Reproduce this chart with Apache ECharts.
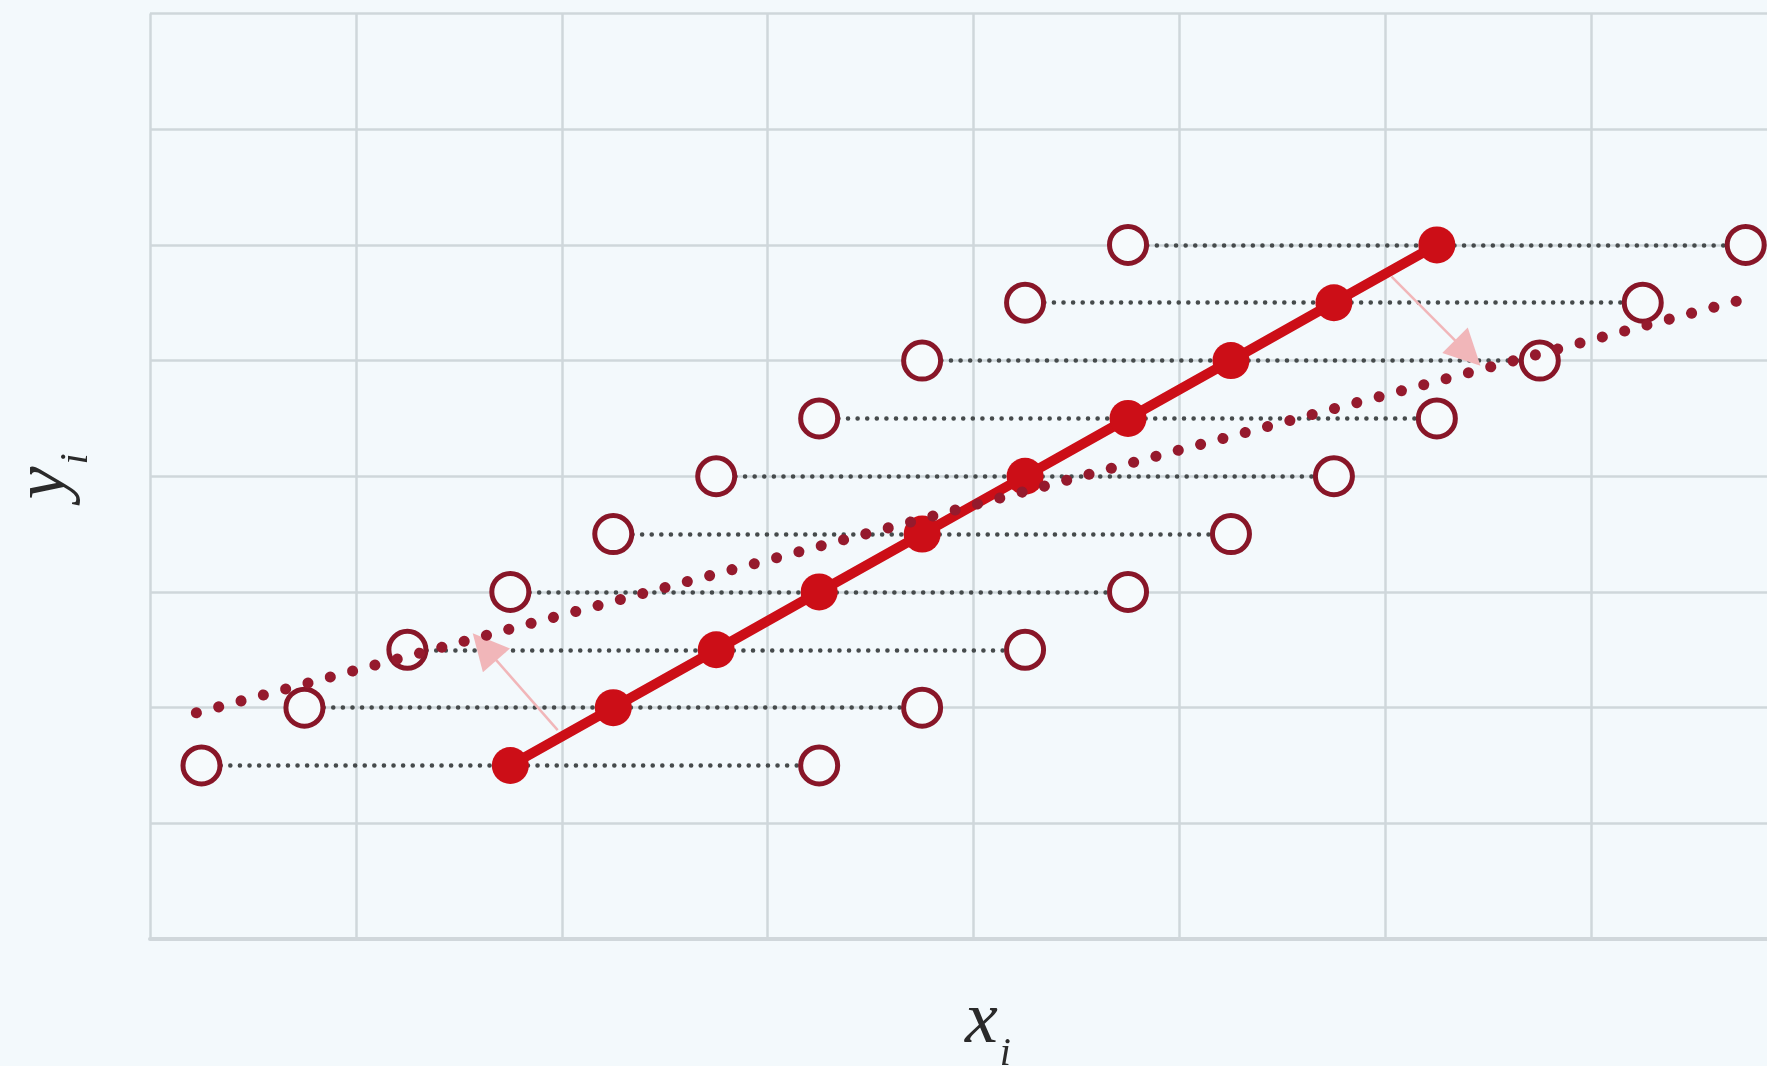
<!DOCTYPE html>
<html>
<head>
<meta charset="utf-8">
<script src="https://cdn.jsdelivr.net/npm/echarts/dist/echarts.min.js"></script>
<style>
html, body { margin: 0; padding: 0; background: #f3f9fc; }
#chart { width: 1767px; height: 1066px; }
</style>
</head>
<body>
<div id="chart"></div>
<script>
// rows (y) shared by the three point sets
const rowY = [3, 4, 5, 6, 7, 8, 9, 10, 11, 12];
// filled points on the solid line
const solidX = [3.5, 4.5, 5.5, 6.5, 7.5, 8.5, 9.5, 10.5, 11.5, 12.5];
// hollow points, shifted left / right
const leftX = [0.5, 1.5, 2.5, 3.5, 4.5, 5.5, 6.5, 7.5, 8.5, 9.5];
const rightX = [6.5, 7.5, 8.5, 9.5, 10.5, 11.5, 12.5, 13.5, 14.5, 15.5];
// dotted fitted line ends
const fitX = [0.45, 15.5];
const fitY = [3.91, 11.07];
// pink arrows
const arrowFrom = [[3.96, 3.61], [12.06, 11.45]];
const arrowTo = [[3.25, 5.05], [12.8, 10.13]];

const zip = (xs, ys) => xs.map((x, i) => [x, ys[i]]);

var myChart = echarts.init(document.getElementById("chart"));

const mathFont = {
    fontFamily: '"Liberation Serif", "DejaVu Serif", serif',
    fontStyle: 'italic',
    color: '#2a2a2a'
};

myChart.setOption({
    backgroundColor: '#f3f9fc',
    animation: false,
    grid: {
        left: 150,
        right: -59,
        top: 13.5,
        bottom: 127,
        containLabel: false,
        outerBoundsMode: 'none'
    },
    xAxis: {
        type: 'value',
        min: 0,
        max: 16.28,
        interval: 2,
        name: '{a|x}{b|i}',
        nameLocation: 'middle',
        nameGap: 33,
        nameTextStyle: {
            rich: {
                a: Object.assign({ fontSize: 74 }, mathFont),
                b: Object.assign({ fontSize: 40, verticalAlign: 'bottom', padding: [62, 0, 0, 2] }, mathFont)
            }
        },
        axisLine: { show: true, lineStyle: { color: '#d0d7db', width: 4 } },
        axisTick: { show: false },
        axisLabel: { show: false },
        splitLine: { lineStyle: { color: '#cfd7db', width: 2.5 } }
    },
    yAxis: {
        type: 'value',
        min: 0,
        max: 16,
        interval: 2,
        name: '{a|y}{b|i}',
        nameLocation: 'middle',
        nameGap: 54,
        nameTextStyle: {
            rich: {
                a: Object.assign({ fontSize: 74 }, mathFont),
                b: Object.assign({ fontSize: 40, verticalAlign: 'bottom', padding: [62, 0, 0, 2] }, mathFont)
            }
        },
        axisLine: { show: false },
        axisTick: { show: false },
        axisLabel: { show: false },
        splitLine: { lineStyle: { color: '#cfd7db', width: 2.5 } }
    },
    series: [
        {
            // horizontal dotted links, left hollow -> right hollow
            type: 'lines',
            coordinateSystem: 'cartesian2d',
            z: 1,
            silent: true,
            lineStyle: { color: '#464b4c', width: 4.5, type: [0.1, 9.5], cap: 'round', opacity: 1 },
            data: rowY.map((y, i) => ({ coords: [[leftX[i], y], [rightX[i], y]] }))
        },
        {
            type: 'lines',
            coordinateSystem: 'cartesian2d',
            z: 2,
            silent: true,
            symbol: ['none', 'triangle'],
            symbolSize: 36,
            lineStyle: { color: '#f1b6b9', width: 2.5, opacity: 1 },
            data: arrowFrom.map((p, i) => ({ coords: [p, arrowTo[i]] }))
        },
        {
            name: 'hollow',
            type: 'scatter',
            z: 3,
            symbol: 'circle',
            symbolSize: 37,
            itemStyle: { color: '#f6fafc', borderColor: '#881628', borderWidth: 5, opacity: 1 },
            data: zip(leftX, rowY).concat(zip(rightX, rowY))
        },
        {
            name: 'solid',
            type: 'line',
            z: 4,
            symbol: 'circle',
            symbolSize: 37,
            itemStyle: { color: '#cc0e17' },
            lineStyle: { color: '#cc0e17', width: 10 },
            data: zip(solidX, rowY)
        },
        {
            name: 'fit',
            type: 'line',
            z: 5,
            symbol: 'none',
            lineStyle: { color: '#951a2d', width: 11, type: [0.1, 23], cap: 'round' },
            data: zip(fitX, fitY)
        }
    ]
});
</script>
</body>
</html>
